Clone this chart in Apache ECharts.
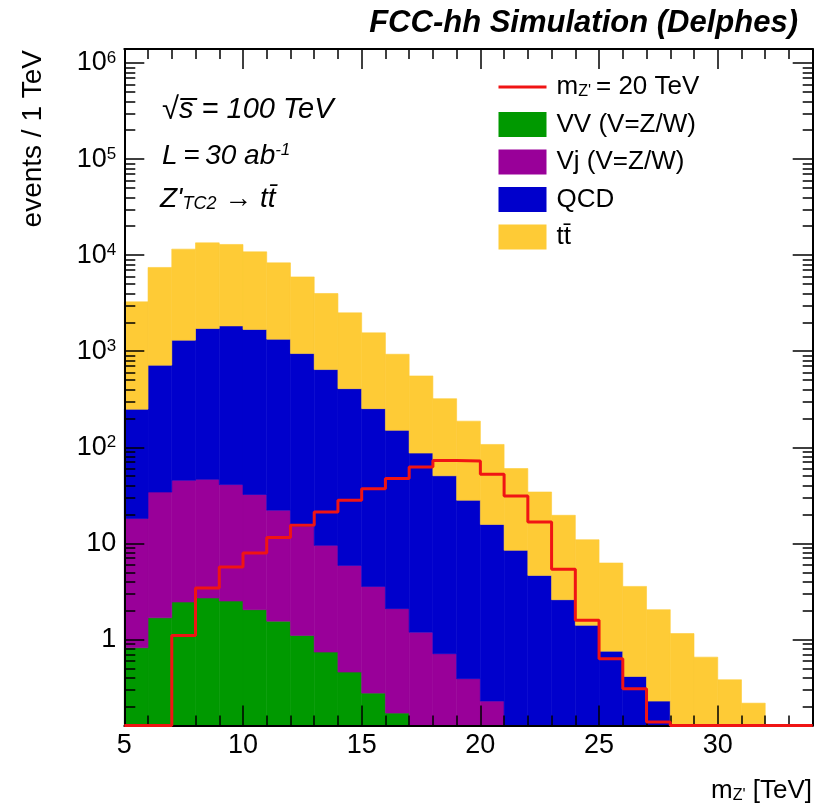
<!DOCTYPE html>
<html>
<head>
<meta charset="utf-8">
<script src="https://cdn.jsdelivr.net/npm/echarts@6/dist/echarts.min.js"></script>
<style>
  html, body { margin: 0; padding: 0; background: #fff; }
  #chart { width: 817px; height: 807px; }
</style>
</head>
<body>
<div id="chart"></div>
<script>
// Reconstructed invariant mass distribution, 1 TeV bins, stacked backgrounds + signal.
const binLow = [5, 6, 7, 8, 9, 10, 11, 12, 13, 14, 15, 16, 17, 18, 19, 20,
                21, 22, 23, 24, 25, 26, 27, 28, 29, 30, 31, 32, 33];
const binWidth = 1;

// events / 1 TeV per process
const ttbar = [3015, 6735, 10250, 11710, 11090, 9140, 6980, 4990, 3345, 2100, 1300, 780, 466, 270, 159,
               91.3, 51.6, 29.6, 17.0, 9.50, 5.49, 3.15, 1.81, 1.15, 0.654, 0.380, 0.217, 0, 0];
const qcd   = [231, 681, 1258, 1677, 1794, 1651, 1312, 931, 635, 402, 249, 148, 85.8, 49.8, 27.7,
               15.5, 8.45, 4.64, 2.59, 1.40, 0.755, 0.412, 0.228, 0, 0, 0, 0, 0, 0];
const vj    = [17.3, 32.5, 42.9, 43.7, 38.4, 30.2, 20.6, 13.9, 8.79, 5.44, 3.28, 1.92, 1.19, 0.710, 0.390,
               0.228, 0, 0, 0, 0, 0, 0, 0, 0, 0, 0, 0, 0, 0];
const vv    = [0.819, 1.68, 2.45, 2.70, 2.51, 2.04, 1.55, 1.10, 0.738, 0.457, 0.276, 0.171, 0, 0, 0,
               0, 0, 0, 0, 0, 0, 0, 0, 0, 0, 0, 0, 0, 0];
const signal = [0, 0, 1.10, 3.42, 5.66, 7.93, 11.5, 15.4, 21.2, 28.1, 37.1, 47.2, 62.4, 73, 72,
                52.3, 31.1, 16.7, 5.36, 1.58, 0.630, 0.306, 0.138, 0, 0, 0, 0, 0, 0];

const xMajorTicks = [5, 10, 15, 20, 25, 30];
const yMajorTicks = [1, 10, 100, 1000, 10000, 100000, 1000000];

const X_MIN = 5, X_MAX = 34;
const Y_MIN = 0.127, Y_MAX = 1.4e6;

const FONT = '"Liberation Sans", Arial, Helvetica, sans-serif';
const COLORS = { ttbar: '#FECB36', qcd: '#0000CC', vj: '#990099', vv: '#009900', sig: '#F01414' };

const NAME_SIG = "m_Z' = 20 TeV";
const NAME_VV = 'VV (V=Z/W)';
const NAME_VJ = 'Vj (V=Z/W)';
const NAME_QCD = 'QCD';
const NAME_TT = 'tt\u0304';

// minor tick positions
const xMinorTicks = binLow.filter(v => v % 5 !== 0);
const yMinorTicks = [];
for (let e = -1; e <= 5; e++) {
  for (let m = 2; m <= 9; m++) {
    const v = Number((m * Math.pow(10, e)).toPrecision(3));
    if (v > Y_MIN && v < Y_MAX) yMinorTicks.push(v);
  }
}

// stack (bottom -> top): VV, Vj, QCD, ttbar
const stackOrder = [
  { name: NAME_VV, values: vv, color: COLORS.vv },
  { name: NAME_VJ, values: vj, color: COLORS.vj },
  { name: NAME_QCD, values: qcd, color: COLORS.qcd },
  { name: NAME_TT, values: ttbar, color: COLORS.ttbar }
];

const base = binLow.map(() => 0);
const stackSeries = stackOrder.map((layer, k) => {
  const data = layer.values.map((v, i) => {
    const lo = base[i];
    const hi = lo + v;
    base[i] = hi;
    return [binLow[i], binLow[i] + binWidth, Math.max(lo, Y_MIN), Math.max(hi, Y_MIN)];
  });
  return {
    type: 'custom',
    name: layer.name,
    data: data,
    encode: { x: [0, 1], y: [2, 3] },
    itemStyle: { color: layer.color },
    z: 2 + k * 0.01,
    renderItem: function (params, api) {
      const lo = api.value(2), hi = api.value(3);
      if (!(hi > lo)) return null;
      const pTop = api.coord([api.value(0), hi]);
      const pBot = api.coord([api.value(1), lo]);
      return {
        type: 'rect',
        shape: { x: pTop[0], y: pTop[1], width: pBot[0] - pTop[0], height: pBot[1] - pTop[1] },
        style: { fill: layer.color, stroke: layer.color, lineWidth: 0.6 }
      };
    }
  };
});

// signal histogram outline as a step line (bin low edges + closing edge)
const sigPoints = signal.map((v, i) => [binLow[i], Math.max(v, Y_MIN)]);
sigPoints.push([binLow[binLow.length - 1] + binWidth, Math.max(signal[signal.length - 1], Y_MIN)]);

const axisLineStyle = { color: '#000', width: 2 };
const tickStyle = { color: '#000', width: 1.5 };

function xAxisDef(position, ticks, len, withLabels, withLine) {
  return {
    type: 'value', gridIndex: 0, position: position, min: X_MIN, max: X_MAX,
    z: 3,
    axisLine: { show: withLine, onZero: false, lineStyle: axisLineStyle },
    axisTick: { show: true, inside: true, length: len, customValues: ticks, lineStyle: tickStyle },
    axisLabel: withLabels ? {
      show: true, customValues: ticks, margin: 7, color: '#000',
      fontSize: 27, fontFamily: FONT
    } : { show: false },
    splitLine: { show: false }, minorTick: { show: false }
  };
}

function yAxisDef(position, ticks, len, withLabels, withLine) {
  return {
    type: 'log', logBase: 10, gridIndex: 0, position: position, min: Y_MIN, max: Y_MAX,
    z: 3,
    axisLine: { show: withLine, onZero: false, lineStyle: axisLineStyle },
    axisTick: { show: true, inside: true, length: len, customValues: ticks, lineStyle: tickStyle },
    axisLabel: withLabels ? {
      show: true, customValues: ticks, margin: 8, color: '#000',
      fontSize: 27, fontFamily: FONT,
      formatter: function (v) {
        const e = Math.round(Math.log10(v));
        if (e === 0) return '{n|1}';
        if (e === 1) return '{n|10}';
        return '{n|10}{s|' + e + '}';
      },
      rich: {
        n: { fontSize: 27, fontFamily: FONT, color: '#000', lineHeight: 27, verticalAlign: 'bottom' },
        s: { fontSize: 17, fontFamily: FONT, color: '#000', lineHeight: 17, verticalAlign: 'top' }
      }
    } : { show: false },
    splitLine: { show: false }, minorTick: { show: false }
  };
}

const option = {
  animation: false,
  backgroundColor: '#fff',
  grid: {
    left: 124.3, right: 4.3, top: 49, bottom: 81.5,
    containLabel: false, outerBoundsMode: 'none', show: false
  },
  xAxis: [
    xAxisDef('bottom', xMajorTicks, 20, true, true),
    xAxisDef('bottom', xMinorTicks, 10, false, false),
    xAxisDef('top', xMajorTicks, 20, false, true),
    xAxisDef('top', xMinorTicks, 10, false, false)
  ],
  yAxis: [
    yAxisDef('left', yMajorTicks, 20, true, true),
    yAxisDef('left', yMinorTicks, 11, false, false),
    yAxisDef('right', yMajorTicks, 20, false, true),
    yAxisDef('right', yMinorTicks, 10, false, false)
  ],
  legend: {
    orient: 'vertical',
    left: 497, top: 74,
    padding: 0,
    itemWidth: 48, itemHeight: 25, itemGap: 11.5,
    selectedMode: false,
    data: [
      {
        name: NAME_SIG,
        itemStyle: { color: 'rgba(0,0,0,0)', borderWidth: 0, opacity: 0 },
        lineStyle: { color: COLORS.sig, width: 3 }
      },
      { name: NAME_VV, icon: 'rect' },
      { name: NAME_VJ, icon: 'rect' },
      { name: NAME_QCD, icon: 'rect' },
      { name: NAME_TT, icon: 'rect' }
    ],
    formatter: function (name) {
      if (name === NAME_SIG) return "{t|m}{sub|Z'}{t|= 20 TeV}";
      return '{t|' + name + '}';
    },
    textStyle: {
      color: '#000', fontSize: 26, fontFamily: FONT,
      rich: {
        t: { fontSize: 26, fontFamily: FONT, color: '#000', lineHeight: 26, padding: [0, 0, 0, 5], verticalAlign: 'top' },
        sub: { fontSize: 16, fontFamily: FONT, color: '#000', lineHeight: 16, verticalAlign: 'bottom' }
      }
    }
  },
  graphic: [
    {
      type: 'text', x: 798, y: 23, z: 10,
      style: {
        text: 'FCC-hh Simulation (Delphes)', align: 'right', verticalAlign: 'middle',
        fontSize: 31, fontWeight: 'bold', fontStyle: 'italic', fontFamily: FONT, fill: '#000'
      }
    },
    {
      type: 'text', x: 33, y: 50, rotation: Math.PI / 2, z: 10,
      style: {
        text: 'events / 1 TeV', align: 'right', verticalAlign: 'middle',
        fontSize: 28, fontFamily: FONT, fill: '#000'
      }
    },
    {
      type: 'text', x: 812, y: 791, z: 10,
      style: {
        text: "{t|m}{s|Z'}{t| [TeV]}", align: 'right', verticalAlign: 'middle',
        fontSize: 26, fontFamily: FONT, fill: '#000',
        rich: {
          t: { fontSize: 26, fontFamily: FONT, fill: '#000', lineHeight: 26, verticalAlign: 'top' },
          s: { fontSize: 16, fontFamily: FONT, fill: '#000', lineHeight: 16, verticalAlign: 'bottom' }
        }
      }
    },
    {
      type: 'text', x: 162, y: 110, z: 10,
      style: {
        text: '{r|\u221A}{t|s\u0305 = 100 TeV}', align: 'left', verticalAlign: 'middle',
        fontSize: 28, fontStyle: 'italic', fontFamily: FONT, fill: '#000',
        rich: {
          r: { fontSize: 31, fontFamily: FONT, fill: '#000', lineHeight: 31 },
          t: { fontSize: 29, fontStyle: 'italic', fontFamily: FONT, fill: '#000', lineHeight: 31 }
        }
      }
    },
    {
      type: 'text', x: 162, y: 156, z: 10,
      style: {
        text: '{t|L\u2009=\u200930 ab}{s|-1}', align: 'left', verticalAlign: 'middle',
        fontSize: 28, fontStyle: 'italic', fontFamily: FONT, fill: '#000',
        rich: {
          t: { fontSize: 28, fontStyle: 'italic', fontFamily: FONT, fill: '#000', lineHeight: 28, verticalAlign: 'bottom' },
          s: { fontSize: 17, fontStyle: 'italic', fontFamily: FONT, fill: '#000', lineHeight: 17, verticalAlign: 'top' }
        }
      }
    },
    {
      type: 'text', x: 160, y: 199, z: 10,
      style: {
        text: "{t|Z'}{s|TC2}{t| \u2192 tt\u0304}", align: 'left', verticalAlign: 'middle',
        fontSize: 28, fontStyle: 'italic', fontFamily: FONT, fill: '#000',
        rich: {
          t: { fontSize: 28, fontStyle: 'italic', fontFamily: FONT, fill: '#000', lineHeight: 28, verticalAlign: 'top' },
          s: { fontSize: 18, fontStyle: 'italic', fontFamily: FONT, fill: '#000', lineHeight: 18, verticalAlign: 'bottom' }
        }
      }
    }
  ],
  series: stackSeries.concat([
    {
      type: 'line',
      name: NAME_SIG,
      data: sigPoints,
      step: 'end',
      symbol: 'none',
      showSymbol: false,
      clip: false,
      z: 5,
      lineStyle: { color: COLORS.sig, width: 3 },
      itemStyle: { color: COLORS.sig }
    }
  ])
};

const chart = echarts.init(document.getElementById('chart'), null, { renderer: 'canvas' });
chart.setOption(option);
</script>
</body>
</html>
